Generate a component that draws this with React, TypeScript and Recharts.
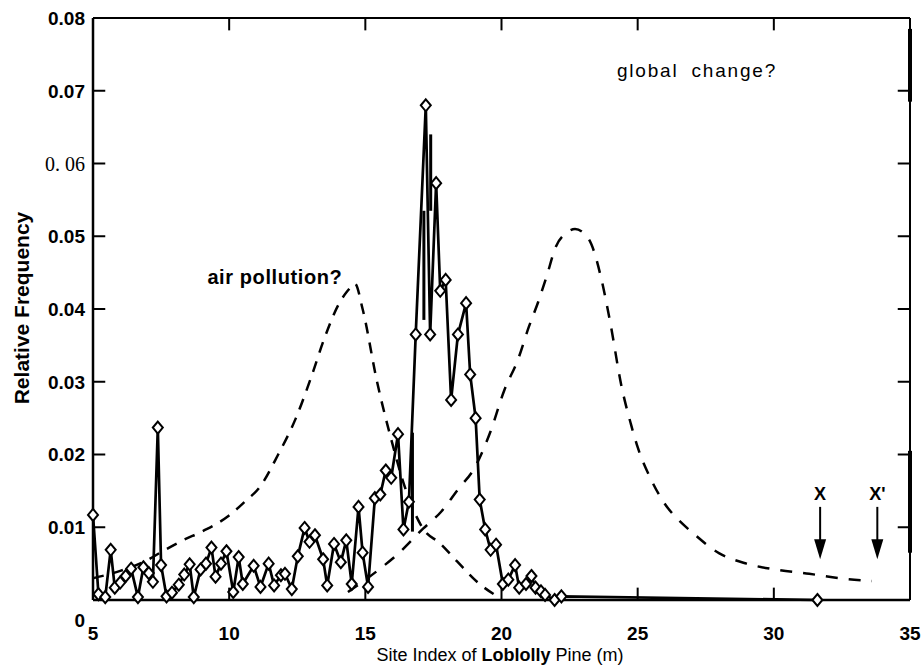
import React from "react";
import { LineChart, Line, XAxis, YAxis, ReferenceLine, ReferenceDot } from "recharts";

// observed site index distribution (diamonds)
const siteIndex = [
  5.0, 5.2, 5.45, 5.65, 5.8, 6.0, 6.2, 6.4, 6.65, 6.85, 7.05, 7.2, 7.38, 7.5, 7.7, 7.9,
  8.15, 8.35, 8.55, 8.7, 8.95, 9.15, 9.35, 9.5, 9.7, 9.9, 10.15, 10.35, 10.5, 10.9, 11.15,
  11.45, 11.65, 11.9, 12.05, 12.3, 12.52, 12.77, 12.95, 13.15, 13.45, 13.6, 13.85, 14.1,
  14.3, 14.5, 14.75, 14.9, 15.1, 15.35, 15.55, 15.75, 15.95, 16.2, 16.4, 16.6, 16.85,
  17.22, 17.38, 17.6, 17.75, 17.95, 18.15, 18.4, 18.7, 18.85, 19.05, 19.2, 19.4, 19.6,
  19.8, 20.05, 20.25, 20.5, 20.65, 20.9, 21.1, 21.25, 21.45, 21.6, 21.95, 22.2, 31.6,
];
const frequency = [
  0.0117, 0.0008, 0.0004, 0.0069, 0.0017, 0.0024, 0.0033, 0.0043, 0.0004, 0.0045, 0.0037,
  0.0025, 0.0237, 0.0048, 0.0005, 0.001, 0.0021, 0.0035, 0.0049, 0.0004, 0.0042, 0.005,
  0.0072, 0.0032, 0.005, 0.0067, 0.0011, 0.0059, 0.0022, 0.0047, 0.0018, 0.005, 0.002,
  0.0034, 0.0036, 0.0015, 0.006, 0.0099, 0.008, 0.0089, 0.0056, 0.002, 0.0077, 0.0052,
  0.0082, 0.0022, 0.0128, 0.0065, 0.0018, 0.014, 0.0145, 0.0178, 0.0168, 0.0228, 0.0097,
  0.0135, 0.0365, 0.068, 0.0365, 0.0573, 0.0425, 0.044, 0.0275, 0.0365, 0.0408, 0.031,
  0.025, 0.0138, 0.0097, 0.0069, 0.0076, 0.0022, 0.0028, 0.0048, 0.0017, 0.0022, 0.0033,
  0.0017, 0.0012, 0.0007, 0.0, 0.0005, 0.0,
];

// "air pollution?" hypothetical curve
const airX = [5, 6, 7, 7.6, 8.3, 9.05, 9.96, 10.6, 11.1, 11.8, 12.45, 13.0, 13.5, 14.0, 14.35, 14.62, 14.9, 15.43, 15.9, 16.5, 17.12, 17.74, 18.37, 19.1, 19.84];
const airY = [0.003, 0.004, 0.0055, 0.0068, 0.0082, 0.0095, 0.0115, 0.0136, 0.0154, 0.02, 0.025, 0.0305, 0.036, 0.0405, 0.0425, 0.0435, 0.04, 0.03, 0.0228, 0.015, 0.0098, 0.0078, 0.0053, 0.0025, 0.0005];

// "global change?" hypothetical curve
const globalX = [14.36, 14.9, 15.54, 16.16, 17.12, 17.8, 18.4, 19.0, 19.6, 20.1, 20.6, 21.0, 21.35, 21.65, 22.0, 22.4, 22.7, 23.0, 23.3, 23.65, 24.0, 24.4, 24.75, 25.0, 25.5, 26, 26.5, 27, 28, 29, 30.2, 31.3, 32.4, 33.6];
const globalY = [0.0011, 0.0025, 0.0043, 0.0062, 0.0098, 0.0122, 0.0152, 0.0181, 0.0232, 0.0288, 0.033, 0.0375, 0.041, 0.0444, 0.0486, 0.0505, 0.051, 0.0505, 0.0489, 0.0444, 0.038, 0.0295, 0.0242, 0.021, 0.0165, 0.0132, 0.011, 0.0093, 0.0064, 0.005, 0.0041, 0.0036, 0.003, 0.0026];

const xTicks = [5, 10, 15, 20, 25, 30, 35];
const yTicks = [0, 0.01, 0.02, 0.03, 0.04, 0.05, 0.06, 0.07, 0.08];
const yTickLabels = ["0", "0.01", "0.02", "0.03", "0.04", "0.05", "0. 06", "0.07", "0.08"];

// X / X' markers
const arrowSites = [31.7, 33.8];
const arrowLabels = ["X", "X'"];

const FONT = "'Liberation Sans', Arial, sans-serif";

const observed = siteIndex.map((x, i) => ({ x, y: frequency[i] }));
const airCurve = airX.map((x, i) => ({ x, y: airY[i] }));
const globalCurve = globalX.map((x, i) => ({ x, y: globalY[i] }));

function Diamond(props: any) {
  const { cx, cy, index } = props;
  if (cx == null || cy == null) return <g key={index} />;
  return (
    <path
      key={index}
      d={`M${cx},${cy - 6}L${cx + 5},${cy}L${cx},${cy + 6}L${cx - 5},${cy}Z`}
      fill="#fff"
      stroke="#000"
      strokeWidth={2}
    />
  );
}

function YTick({ x, y, payload }: any) {
  const i = yTicks.findIndex((t) => Math.abs(t - payload.value) < 1e-9);
  const serif = i === 6;
  return (
    <text
      x={x}
      y={y + (i === 0 ? 20 : 0)}
      dy="0.36em"
      textAnchor="end"
      fontFamily={serif ? "'Liberation Serif', serif" : FONT}
      fontWeight={serif ? 400 : 700}
      fontSize={serif ? 20 : 19}
      fill="#000"
    >
      {yTickLabels[i]}
    </text>
  );
}

function XTick({ x, y, payload }: any) {
  return (
    <text x={x} y={y + 40} textAnchor="middle" fontFamily={FONT} fontWeight={700} fontSize={19} fill="#000">
      {payload.value}
    </text>
  );
}

function arrowShape(label: string) {
  return (p: any) => {
    const top = Math.min(p.y1, p.y2);
    const bottom = Math.max(p.y1, p.y2);
    const x = p.x1;
    return (
      <g>
        <line x1={x} y1={top} x2={x} y2={bottom - 16} stroke="#000" strokeWidth={2} />
        <polygon points={`${x - 6},${bottom - 20} ${x + 6},${bottom - 20} ${x},${bottom}`} fill="#000" />
        <text x={x} y={top - 7} textAnchor="middle" fontFamily={FONT} fontWeight={700} fontSize={18} fill="#000">
          {label}
        </text>
      </g>
    );
  };
}

export default function App() {
  return (
    <div style={{ position: "absolute", left: 0, top: 0, width: 923, height: 669, background: "#fff" }}>
      <LineChart width={923} height={669} margin={{ top: 0, right: 0, bottom: 0, left: 0 }}>
        <XAxis
          dataKey="x"
          type="number"
          domain={[5, 35]}
          ticks={xTicks}
          interval={0}
          height={69}
          allowDuplicatedCategory={false}
          axisLine={{ stroke: "#000", strokeWidth: 2.5 }}
          tickLine={false}
          tickSize={0}
          tickMargin={0}
          tick={<XTick />}
        />
        <XAxis
          xAxisId="top"
          orientation="top"
          type="number"
          domain={[5, 35]}
          ticks={xTicks}
          height={18}
          axisLine={{ stroke: "#000", strokeWidth: 2 }}
          tickLine={false}
          tick={false}
        />
        <YAxis
          type="number"
          domain={[0, 0.08]}
          ticks={yTicks}
          interval={0}
          width={93}
          axisLine={{ stroke: "#000", strokeWidth: 2.5 }}
          tickLine={false}
          tickSize={0}
          tickMargin={8}
          tick={<YTick />}
        />
        <YAxis
          yAxisId="right"
          orientation="right"
          type="number"
          domain={[0, 0.08]}
          ticks={yTicks}
          width={13}
          axisLine={{ stroke: "#000", strokeWidth: 2 }}
          tickLine={false}
          tick={false}
        />

        {/* inward tick marks */}
        {yTicks.slice(1, -1).map((v) => (
          <ReferenceLine key={`l${v}`} segment={[{ x: 5, y: v }, { x: 5.45, y: v }]} stroke="#000" strokeWidth={2} />
        ))}
        {yTicks.slice(1, -1).map((v) => (
          <ReferenceLine key={`r${v}`} segment={[{ x: 34.55, y: v }, { x: 35, y: v }]} stroke="#000" strokeWidth={2} />
        ))}
        {xTicks.slice(1, -1).map((v) => (
          <ReferenceLine key={`b${v}`} segment={[{ x: v, y: 0 }, { x: v, y: 0.0017 }]} stroke="#000" strokeWidth={2} />
        ))}
        {xTicks.slice(1, -1).map((v) => (
          <ReferenceLine key={`t${v}`} segment={[{ x: v, y: 0.08 }, { x: v, y: 0.0783 }]} stroke="#000" strokeWidth={2} />
        ))}
        {/* heavier stretches of the scanned right border */}
        <ReferenceLine segment={[{ x: 35, y: 0.0785 }, { x: 35, y: 0.0685 }]} stroke="#000" strokeWidth={4} />
        <ReferenceLine segment={[{ x: 35, y: 0.0205 }, { x: 35, y: 0.0065 }]} stroke="#000" strokeWidth={4} />

        <Line
          data={airCurve}
          dataKey="y"
          type="monotone"
          stroke="#000"
          strokeWidth={2.5}
          strokeDasharray="11 9"
          dot={false}
          isAnimationActive={false}
        />
        <Line
          data={globalCurve}
          dataKey="y"
          type="monotone"
          stroke="#000"
          strokeWidth={2.5}
          strokeDasharray="12 11"
          dot={false}
          isAnimationActive={false}
        />

        {/* scan artefacts: heavy vertical strokes in the peak */}
        <ReferenceLine segment={[{ x: 17.15, y: 0.0385 }, { x: 17.15, y: 0.0535 }]} stroke="#000" strokeWidth={3} />
        <ReferenceLine segment={[{ x: 17.4, y: 0.0535 }, { x: 17.4, y: 0.064 }]} stroke="#000" strokeWidth={3} />
        <ReferenceLine segment={[{ x: 16.73, y: 0.0094 }, { x: 16.73, y: 0.023 }]} stroke="#000" strokeWidth={3} />

        <Line
          data={observed}
          dataKey="y"
          type="linear"
          stroke="#000"
          strokeWidth={2.7}
          dot={Diamond}
          activeDot={false}
          isAnimationActive={false}
        />

        {arrowSites.map((s, i) => (
          <ReferenceLine
            key={arrowLabels[i]}
            segment={[{ x: s, y: 0.0128 }, { x: s, y: 0.0056 }]}
            shape={arrowShape(arrowLabels[i])}
          />
        ))}

        <ReferenceDot
          x={11.68}
          y={0.0444}
          r={0}
          shape={(p: any) => (
            <text x={p.cx} y={p.cy} dy="0.35em" textAnchor="middle" fontFamily={FONT} fontWeight={700} fontSize={20} letterSpacing={0.6} fill="#000">
              air pollution?
            </text>
          )}
        />
        <ReferenceDot
          x={27.18}
          y={0.0728}
          r={0}
          shape={(p: any) => (
            <text
              x={p.cx}
              y={p.cy}
              dy="0.35em"
              textAnchor="middle"
              fontFamily={FONT}
              fontSize={19}
              letterSpacing={1.8}
              wordSpacing={6}
              fill="#000"
            >
              global change?
            </text>
          )}
        />
      </LineChart>

      <div
        style={{
          position: "absolute",
          left: 22,
          top: 308,
          transform: "translate(-50%, -50%) rotate(-90deg)",
          whiteSpace: "nowrap",
          fontFamily: FONT,
          fontWeight: 700,
          fontSize: 21,
        }}
      >
        Relative Frequency
      </div>
      <div
        style={{
          position: "absolute",
          left: 500,
          top: 655,
          transform: "translate(-50%, -50%)",
          whiteSpace: "nowrap",
          fontFamily: FONT,
          fontSize: 18,
        }}
      >
        Site Index of <b>Loblolly</b> Pine (m)
      </div>
    </div>
  );
}
